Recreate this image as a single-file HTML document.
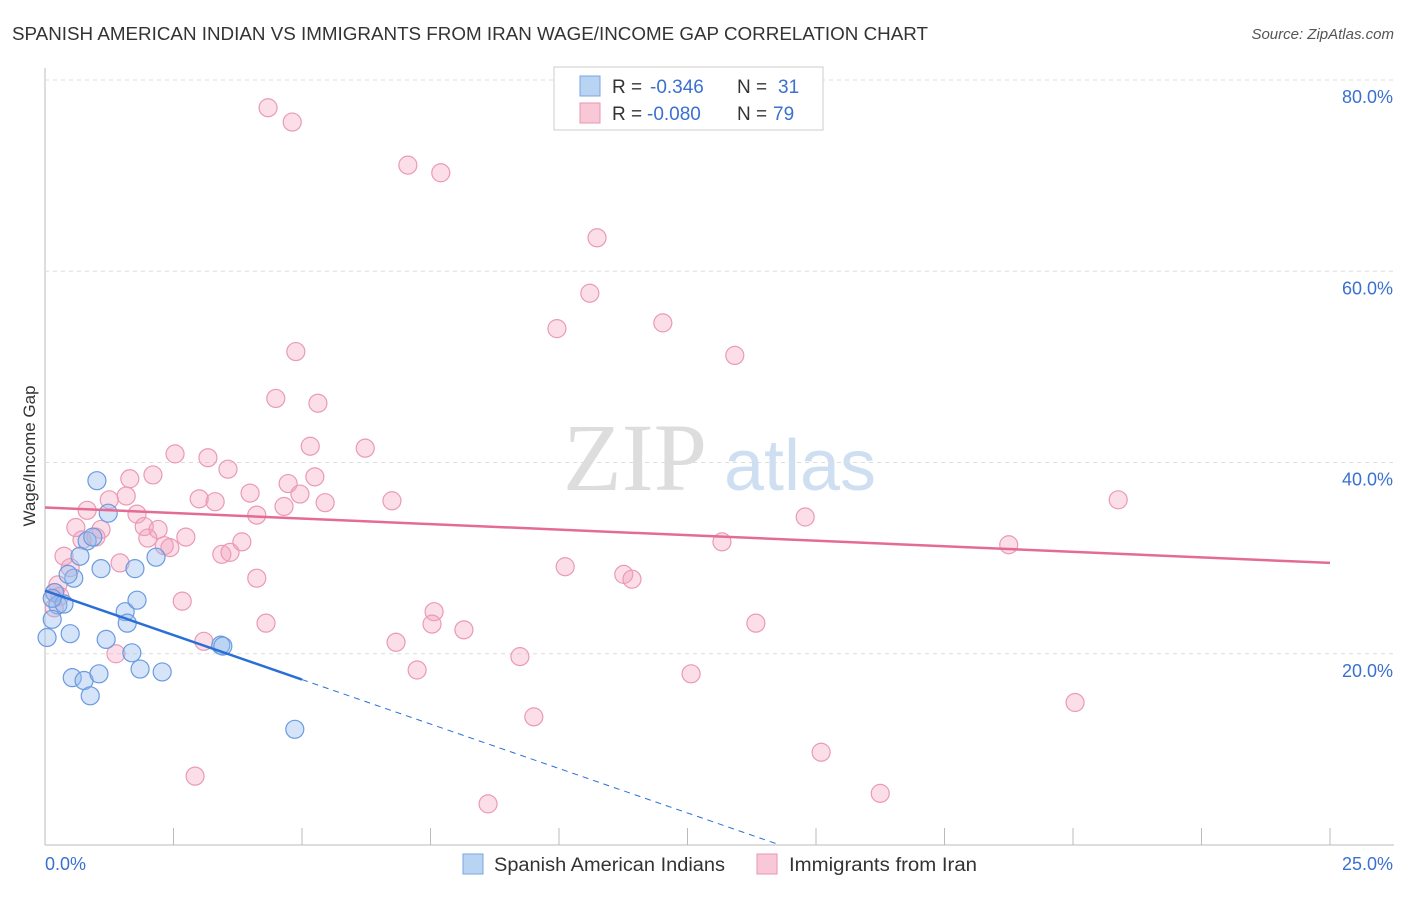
<!DOCTYPE html>
<html><head><meta charset="utf-8"><style>
body{margin:0;background:#fff;font-family:"Liberation Sans",sans-serif}
</style></head><body>
<svg id="c" width="1406" height="892" xmlns="http://www.w3.org/2000/svg">
<text x="12" y="40" font-size="18" fill="#333" textLength="916" lengthAdjust="spacingAndGlyphs">SPANISH AMERICAN INDIAN VS IMMIGRANTS FROM IRAN WAGE/INCOME GAP CORRELATION CHART</text>
<text x="1394" y="39" font-size="15" fill="#555" font-style="italic" text-anchor="end">Source: ZipAtlas.com</text>
<text x="35" y="456" font-size="17" fill="#333" text-anchor="middle" transform="rotate(-90 35 456)">Wage/Income Gap</text>
<text x="635" y="490" font-size="96" fill="#ddd" font-family="Liberation Serif" text-anchor="middle">ZIP</text>
<text x="800" y="490" font-size="72" fill="#cfdff2" text-anchor="middle">atlas</text>
<g id="grid"></g><g id="pts"></g><g id="lines"></g>
<g>
<rect x="554" y="67" width="269" height="63" fill="#fff" stroke="#ccc"/>
<rect x="580" y="76" width="20" height="20" fill="#b9d3f3" stroke="#7aa6e0"/>
<rect x="580" y="103" width="20" height="20" fill="#f9c8d7" stroke="#e995b0"/>
<text y="93" font-size="19" fill="#333"><tspan x="612">R =</tspan><tspan x="650" fill="#3a70d0">-0.346</tspan><tspan x="737">N =</tspan><tspan x="778" fill="#3a70d0">31</tspan></text>
<text y="120" font-size="19" fill="#333"><tspan x="612">R =</tspan><tspan x="647" fill="#3a70d0">-0.080</tspan><tspan x="737">N =</tspan><tspan x="773" fill="#3a70d0">79</tspan></text>
</g>
<g>
<rect x="463" y="854" width="20" height="20" fill="#b9d3f3" stroke="#7aa6e0"/>
<text x="494" y="871" font-size="19" fill="#333" textLength="231" lengthAdjust="spacingAndGlyphs">Spanish American Indians</text>
<rect x="757" y="854" width="20" height="20" fill="#f9c8d7" stroke="#e995b0"/>
<text x="789" y="871" font-size="19" fill="#333" textLength="188" lengthAdjust="spacingAndGlyphs">Immigrants from Iran</text>
</g>
</svg>
<script>
const xTicks=[0,2.5,5,7.5,10,12.5,15,17.5,20,22.5,25];
const yTicks=[20,40,60,80];
const yTickLabels=["20.0%","40.0%","60.0%","80.0%"];
const blueX=[1.01,1.23,0.82,0.93,0.68,0.56,0.45,1.09,1.75,2.16,0.19,0.25,0.37,0.14,0.04,0.49,1.19,1.56,1.79,1.60,1.69,3.42,3.46,1.85,2.28,0.53,0.76,1.05,0.88,4.86,0.14];
const blueY=[38.1,34.7,31.8,32.2,30.2,27.9,28.3,28.9,28.9,30.1,26.4,25.1,25.2,23.6,21.7,22.1,21.5,24.4,25.6,23.2,20.1,20.9,20.8,18.4,18.1,17.5,17.2,17.9,15.6,12.1,25.8];
const pinkX=[4.34,4.81,7.06,7.70,10.74,10.60,9.96,12.02,13.42,4.88,4.49,5.31,5.16,6.23,2.53,3.17,3.56,2.10,1.65,4.73,5.25,3.99,4.96,1.58,1.25,3.00,3.31,5.45,6.75,4.65,4.12,0.82,1.79,1.93,0.60,1.09,2.20,2.74,2.00,0.72,0.99,3.83,2.32,2.43,3.44,3.60,0.37,1.46,0.49,4.12,0.25,0.18,0.29,2.67,0.18,4.30,1.38,3.09,14.79,20.88,13.17,18.75,10.12,11.26,11.42,7.57,7.53,8.15,6.83,13.83,9.24,7.24,12.57,9.51,20.04,15.10,2.92,8.62,16.25];
const pinkY=[77.1,75.6,71.1,70.3,63.5,57.7,54.0,54.6,51.2,51.6,46.7,46.2,41.7,41.5,40.9,40.5,39.3,38.7,38.3,37.8,38.5,36.8,36.7,36.5,36.1,36.2,35.9,35.8,36.0,35.4,34.5,35.0,34.6,33.3,33.2,33.0,33.0,32.2,32.1,31.9,32.2,31.7,31.3,31.1,30.4,30.6,30.2,29.5,29.0,27.9,27.2,26.4,26.0,25.5,24.8,23.2,20.0,21.3,34.3,36.1,31.7,31.4,29.1,28.3,27.8,24.4,23.1,22.5,21.2,23.2,19.7,18.3,17.9,13.4,14.9,9.7,7.2,4.3,5.4];
const blueTrend=[26.6,-1.86];
const pinkTrend=[35.3,-0.232];
const sx=v=>45+v*51.4, sy=v=>845-v*9.5625;
const NS="http://www.w3.org/2000/svg";
function mk(t,a,p){const e=document.createElementNS(NS,t);for(const k in a)e.setAttribute(k,a[k]);p.appendChild(e);return e;}
const g=document.getElementById('grid');
mk('line',{x1:45,y1:68,x2:45,y2:845,stroke:'#bbb'},g);
mk('line',{x1:45,y1:845,x2:1394,y2:845,stroke:'#bbb'},g);
yTicks.forEach((t,i)=>{
 const l=mk('line',{x1:45,y1:sy(t),x2:1394,y2:sy(t),stroke:'#ddd','stroke-dasharray':'4,4'},g);
 
 
 const tx=mk('text',{x:1393,y:sy(t)+23,'font-size':18,fill:'#3a70d0','text-anchor':'end'},g);
 tx.textContent=yTickLabels[i];
 
 
});
xTicks.forEach(t=>{
 const l=mk('line',{x1:sx(t),y1:828,x2:sx(t),y2:845,stroke:'#bbb'},g);
 
 
});
const x0=mk('text',{x:45,y:870,'font-size':18,fill:'#3a70d0'},g);x0.textContent='0.0%';


const x1=mk('text',{x:1393,y:870,'font-size':18,fill:'#3a70d0','text-anchor':'end'},g);x1.textContent='25.0%';


const P=document.getElementById('pts');
pinkX.forEach((x,i)=>{const c=mk('circle',{cx:sx(x),cy:sy(pinkY[i]),r:9,fill:'rgba(243,160,188,0.35)',stroke:'#ea9ab4','stroke-width':1.2},P);
 
 });
blueX.forEach((x,i)=>{const c=mk('circle',{cx:sx(x),cy:sy(blueY[i]),r:9,fill:'rgba(150,188,238,0.4)',stroke:'#6a9be0','stroke-width':1.2},P);
 
 });
const L=document.getElementById('lines');
const pl=mk('line',{x1:sx(0),y1:sy(pinkTrend[0]),x2:sx(25),y2:sy(pinkTrend[0]+25*pinkTrend[1]),stroke:'#e46b95','stroke-width':2.5},L);


const bl=mk('line',{x1:sx(0),y1:sy(blueTrend[0]),x2:sx(5),y2:sy(blueTrend[0]+5*blueTrend[1]),stroke:'#2a6fd6','stroke-width':2.5},L);


const xe=-blueTrend[0]/blueTrend[1];
const bd=mk('line',{x1:sx(5),y1:sy(blueTrend[0]+5*blueTrend[1]),x2:sx(xe),y2:sy(0),stroke:'#2a6fd6','stroke-width':1,'stroke-dasharray':'6,5'},L);


</script>
</body></html>
